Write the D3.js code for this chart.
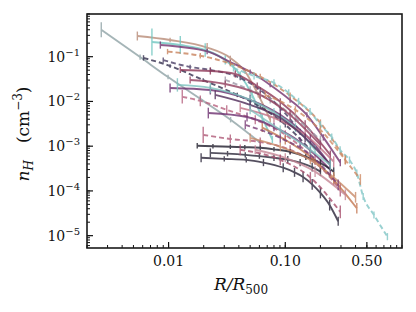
<!DOCTYPE html>
<html>
<head>
<meta charset="utf-8">
<script src="https://cdn.jsdelivr.net/npm/d3@7"></script>
<style>
  body { margin: 0; background: #fff; }
  svg { display: block; }
  text { font-family: "DejaVu Serif", serif; fill: #111; }
</style>
</head>
<body>
<svg width="416" height="312"></svg>
<script>
// density profiles n_H(R/R500), one entry per cluster
const radii = [
  [0.00265, 0.0057, 0.0099, 0.0187, 0.034, 0.061],
  [0.0054, 0.0103, 0.0214, 0.0338, 0.0454, 0.0587, 0.0743],
  [0.0072, 0.0126, 0.0206, 0.0306, 0.0411, 0.052, 0.0635, 0.0775],
  [0.0085, 0.0214, 0.0338, 0.05, 0.0743, 0.11, 0.153, 0.212, 0.296],
  [0.0098, 0.0187, 0.0338, 0.061, 0.11, 0.2, 0.327],
  [0.0061, 0.0103, 0.0198, 0.0388, 0.061, 0.10, 0.164],
  [0.009, 0.0153, 0.0228, 0.0411, 0.061, 0.0906, 0.134],
  [0.0126, 0.0228, 0.0373, 0.0575, 0.0906, 0.148, 0.243],
  [0.0103, 0.0228, 0.05, 0.0906, 0.164, 0.243],
  [0.0131, 0.0187, 0.0315, 0.0553, 0.10, 0.18],
  [0.0119, 0.0228, 0.05, 0.08, 0.122, 0.18],
  [0.0219, 0.047, 0.08, 0.134, 0.243],
  [0.0198, 0.0338, 0.061, 0.11, 0.2, 0.296],
  [0.0176, 0.024, 0.0338, 0.045, 0.061, 0.08, 0.11, 0.15, 0.2, 0.26],
  [0.0228, 0.032, 0.0454, 0.06, 0.08, 0.105, 0.134, 0.17, 0.2],
  [0.019, 0.03, 0.0463, 0.065, 0.096, 0.12, 0.142, 0.17, 0.2, 0.24, 0.284],
  [0.0635, 0.10, 0.164, 0.26, 0.41],
  [0.05, 0.0906, 0.164, 0.26, 0.40],
  [0.0553, 0.10, 0.18, 0.327],
  [0.0411, 0.0906, 0.164, 0.296],
  [0.0454, 0.0906, 0.164, 0.284],
  [0.0411, 0.08, 0.148, 0.26],
  [0.036, 0.054, 0.08, 0.107, 0.13, 0.163, 0.2, 0.25, 0.295, 0.355, 0.41, 0.465, 0.575, 0.75],
  [0.0306, 0.05, 0.0743, 0.122, 0.2],
  [0.0251, 0.05, 0.0906, 0.148, 0.243],
  [0.0153, 0.0306, 0.061, 0.11, 0.2],
  [0.0674, 0.122, 0.2, 0.327, 0.44],
  [0.05, 0.0906, 0.164, 0.243]
];

const nH = [
  [0.40, 0.098, 0.035, 0.0114, 0.0039, 0.0012],
  [0.29, 0.236, 0.16, 0.094, 0.046, 0.014, 0.0039],
  [0.213, 0.182, 0.141, 0.084, 0.039, 0.014, 0.0043, 0.0014],
  [0.182, 0.131, 0.076, 0.046, 0.0234, 0.0108, 0.005, 0.00157, 0.00043],
  [0.13, 0.105, 0.07, 0.036, 0.0135, 0.0033, 0.0005],
  [0.094, 0.062, 0.030, 0.014, 0.0076, 0.003, 0.00083],
  [0.084, 0.059, 0.0505, 0.0335, 0.018, 0.0072, 0.0021],
  [0.0505, 0.048, 0.041, 0.022, 0.0098, 0.003, 0.00064],
  [0.02, 0.018, 0.0108, 0.005, 0.00138, 0.00038],
  [0.0127, 0.0103, 0.0065, 0.0039, 0.0018, 0.0005],
  [0.0234, 0.0201, 0.0108, 0.0057, 0.0026, 0.00083],
  [0.0055, 0.0045, 0.0027, 0.00124, 0.0003],
  [0.00179, 0.00145, 0.00124, 0.00083, 0.00034, 0.000106],
  [0.00102, 0.001, 0.00097, 0.00095, 0.00092, 0.00085, 0.00075, 0.00058, 0.00042, 0.00027],
  [0.00071, 0.00068, 0.00064, 0.0006, 0.00055, 0.0005, 0.00043, 0.00034, 0.00027],
  [0.00055, 0.00052, 0.000495, 0.00043, 0.00033, 0.00026, 0.000205, 0.00014, 9.0e-5, 4.8e-5, 2.1e-5],
  [0.0026, 0.00138, 0.00058, 0.000177, 4.1e-5],
  [0.00153, 0.00097, 0.000495, 0.0002, 7.2e-5],
  [0.00083, 0.00055, 0.00027, 8.2e-5],
  [0.00083, 0.000495, 0.0002, 3.4e-5],
  [0.003, 0.00153, 0.00064, 0.000137],
  [0.0072, 0.0043, 0.0018, 0.00045],
  [0.056, 0.037, 0.026, 0.0155, 0.01, 0.0059, 0.003, 0.0016, 0.00083, 0.00049, 0.00025, 7.5e-5, 2.9e-5, 9.5e-6],
  [0.0302, 0.0181, 0.0108, 0.0043, 0.00138],
  [0.014, 0.0084, 0.0043, 0.00153, 0.00038],
  [0.0302, 0.0245, 0.014, 0.005, 0.00107],
  [0.014, 0.0065, 0.0023, 0.00049, 0.00018],
  [0.0065, 0.0023, 0.00083, 0.00038]
];

// errors in dex
const nHErr = [
  [0.17, 0.06, 0.05, 0.05, 0.06, 0.06],
  [0.1, 0.05, 0.1, 0.05, 0.05, 0.06, 0.06],
  [0.3, 0.2, 0.15, 0.1, 0.08, 0.08, 0.08, 0.08],
  [0.08, 0.06, 0.05, 0.05, 0.05, 0.06, 0.06, 0.07, 0.08],
  [0.06, 0.06, 0.06, 0.06, 0.07, 0.08, 0.1],
  [0.06, 0.04, 0.04, 0.05, 0.05, 0.06, 0.07],
  [0.06, 0.05, 0.05, 0.05, 0.06, 0.06, 0.07],
  [0.07, 0.08, 0.08, 0.08, 0.08, 0.1, 0.1],
  [0.1, 0.1, 0.12, 0.12, 0.12, 0.12],
  [0.15, 0.12, 0.1, 0.1, 0.1, 0.12],
  [0.15, 0.12, 0.1, 0.1, 0.1, 0.1],
  [0.12, 0.1, 0.1, 0.1, 0.12],
  [0.18, 0.1, 0.1, 0.1, 0.12, 0.15],
  [0.06, 0.05, 0.05, 0.05, 0.05, 0.05, 0.06, 0.07, 0.08, 0.1],
  [0.1, 0.06, 0.06, 0.06, 0.07, 0.08, 0.08, 0.1, 0.1],
  [0.1, 0.06, 0.06, 0.08, 0.1, 0.1, 0.12, 0.12, 0.12, 0.12, 0.1],
  [0.1, 0.1, 0.1, 0.12, 0.12],
  [0.1, 0.1, 0.1, 0.12, 0.12],
  [0.1, 0.1, 0.12, 0.12],
  [0.12, 0.12, 0.12, 0.14],
  [0.1, 0.1, 0.1, 0.12],
  [0.1, 0.1, 0.1, 0.12],
  [0.08, 0.08, 0.08, 0.08, 0.08, 0.08, 0.08, 0.08, 0.08, 0.08, 0.08, 0.08, 0.08, 0.08],
  [0.08, 0.08, 0.08, 0.1, 0.1],
  [0.1, 0.1, 0.1, 0.1, 0.12],
  [0.08, 0.08, 0.08, 0.1, 0.1],
  [0.08, 0.08, 0.1, 0.1, 0.12],
  [0.1, 0.1, 0.1, 0.12]
];

const xTicks = [0.01, 0.1, 0.5];
const xTickLabels = ["0.01", "0.10", "0.50"];
const yTicks = [1e-1, 1e-2, 1e-3, 1e-4, 1e-5];
const yTickExps = ["\u22121", "\u22122", "\u22123", "\u22124", "\u22125"];

// style per profile
const lineColor = [
  "#8fa3a6", "#b98c78", "#6fc6c0", "#74336f", "#c9835d", "#35304f", "#4b3f66",
  "#8d3657", "#6a2c6c", "#b7627f", "#7cc3bf", "#6e3070", "#b05a78", "#1f1c2b",
  "#2b2839", "#2a2438", "#c47650", "#c98a68", "#c58695", "#a8506e", "#7a3d78",
  "#c27186", "#80c6c6", "#9e98a8", "#4f2a58", "#923e5e", "#cf8a64", "#86c4c2"
];
const lineDashed = [
  false, false, false, false, true, true, true, false, false, true, false, false,
  true, false, false, false, false, false, false, true, true, false, true, true,
  false, false, true, false
];

const svg = d3.select("svg");
const m = {left: 87, right: 402, top: 14, bottom: 248};

const x = d3.scaleLog().domain([0.002, 1.0]).range([m.left, m.right]);
const y = d3.scaleLog().domain([5.3e-6, 0.9]).range([m.bottom, m.top]);

svg.append("clipPath").attr("id", "clip")
  .append("rect")
  .attr("x", m.left).attr("y", m.top)
  .attr("width", m.right - m.left).attr("height", m.bottom - m.top);

const plot = svg.append("g").attr("clip-path", "url(#clip)");

const line = d3.line()
  .x(d => x(d[0]))
  .y(d => y(d[1]))
  .curve(d3.curveMonotoneX);

radii.forEach(function (rs, i) {
  const pts = rs.map((r, j) => [r, nH[i][j], nHErr[i][j]]);
  const g = plot.append("g").attr("opacity", 0.8);
  g.append("path")
    .datum(pts)
    .attr("d", line)
    .attr("fill", "none")
    .attr("stroke", lineColor[i])
    .attr("stroke-width", 1.9)
    .attr("stroke-dasharray", lineDashed[i] ? "5,3" : null);
  // vertical error bars
  g.selectAll("line.err")
    .data(pts)
    .enter().append("line")
    .attr("class", "err")
    .attr("x1", d => x(d[0])).attr("x2", d => x(d[0]))
    .attr("y1", d => y(d[1] * Math.pow(10, d[2])))
    .attr("y2", d => y(d[1] / Math.pow(10, d[2])))
    .attr("stroke", lineColor[i])
    .attr("stroke-width", 1.4);
});

// ticks (inward), left + bottom only
const axes = svg.append("g").attr("stroke", "#111");

const xMinor = [];
const yMinor = [];
for (let k = -3; k <= 0; k++) {
  for (let d = 1; d <= 9; d++) {
    const v = d * Math.pow(10, k);
    if (v >= 0.002 && v <= 1.0) xMinor.push(v);
  }
}
for (let k = -6; k <= -1; k++) {
  for (let d = 1; d <= 9; d++) {
    const v = d * Math.pow(10, k);
    if (v >= 5.3e-6 && v <= 0.9) yMinor.push(v);
  }
}

axes.selectAll("line.xmin").data(xMinor).enter().append("line")
  .attr("x1", d => x(d)).attr("x2", d => x(d))
  .attr("y1", m.bottom).attr("y2", m.bottom - 3)
  .attr("stroke-width", 1);
axes.selectAll("line.xmaj").data(xTicks).enter().append("line")
  .attr("x1", d => x(d)).attr("x2", d => x(d))
  .attr("y1", m.bottom).attr("y2", m.bottom - 6)
  .attr("stroke-width", 1.2);

axes.selectAll("line.ymin").data(yMinor).enter().append("line")
  .attr("y1", d => y(d)).attr("y2", d => y(d))
  .attr("x1", m.left).attr("x2", m.left + 3)
  .attr("stroke-width", 1);
axes.selectAll("line.ymaj").data(yTicks).enter().append("line")
  .attr("y1", d => y(d)).attr("y2", d => y(d))
  .attr("x1", m.left).attr("x2", m.left + 6)
  .attr("stroke-width", 1.2);

// frame
svg.append("rect")
  .attr("x", m.left).attr("y", m.top)
  .attr("width", m.right - m.left).attr("height", m.bottom - m.top)
  .attr("fill", "none").attr("stroke", "#1a1a1a").attr("stroke-width", 1.6);

// tick labels
svg.selectAll("text.xl").data(xTicks).enter().append("text")
  .attr("x", d => x(d)).attr("y", 266)
  .attr("text-anchor", "middle")
  .attr("font-size", 14)
  .text((d, i) => xTickLabels[i]);

const yl = svg.selectAll("text.yl").data(yTicks).enter().append("text")
  .attr("x", 80).attr("y", d => y(d) + 5)
  .attr("text-anchor", "end")
  .attr("font-size", 14);
yl.append("tspan").text("10");
yl.append("tspan").attr("font-size", 10).attr("dy", -6).text((d, i) => yTickExps[i]);

// axis titles
const xt = svg.append("text")
  .attr("x", 241).attr("y", 290)
  .attr("text-anchor", "middle")
  .attr("font-size", 17);
xt.append("tspan").attr("font-style", "italic").text("R/R");
xt.append("tspan").attr("font-size", 12).attr("dy", 4).text("500");

const yt = svg.append("text")
  .attr("transform", "translate(29,134) rotate(-90)")
  .attr("text-anchor", "middle")
  .attr("font-size", 17);
yt.append("tspan").attr("font-style", "italic").text("n");
yt.append("tspan").attr("font-style", "italic").attr("font-size", 12).attr("dy", 4).text("H");
yt.append("tspan").attr("dy", -4).text("\u2002\u2002(cm");
yt.append("tspan").attr("font-size", 12).attr("dy", -7).text("\u22123");
yt.append("tspan").attr("dy", 7).text(")");
</script>
</body>
</html>
